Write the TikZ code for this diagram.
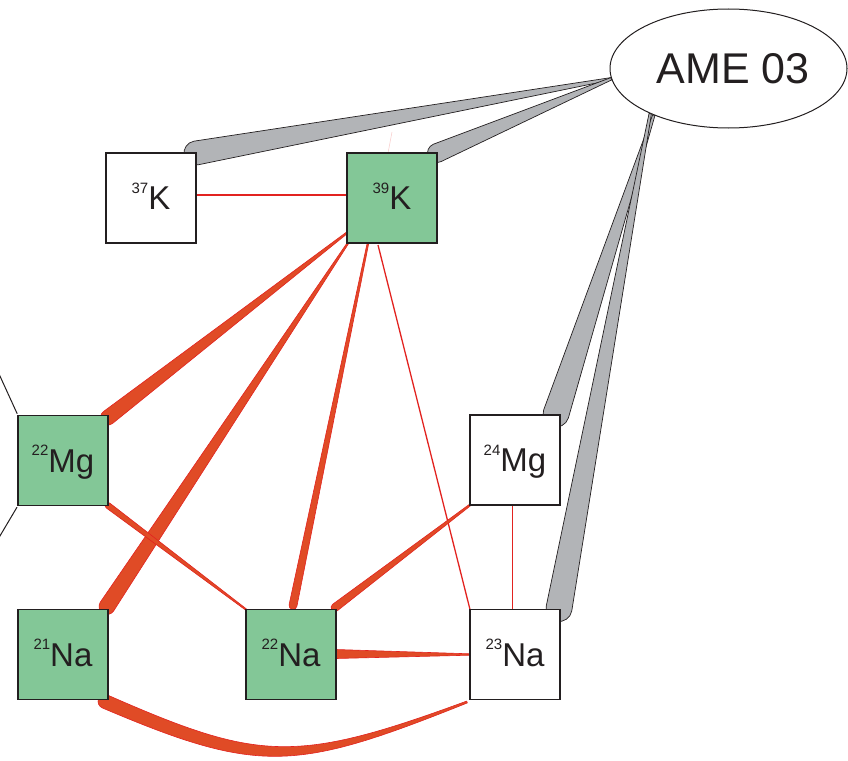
\documentclass[tikz,border=0pt]{standalone}
\usepackage{fontspec}
\setmainfont{Liberation Sans}
\usetikzlibrary{calc,shapes.geometric,backgrounds}
\definecolor{boxgreen}{RGB}{131,199,151}
\definecolor{wedgegray}{RGB}{178,180,183}
\definecolor{linered}{RGB}{226,35,32}
\definecolor{wedgered}{RGB}{224,75,38}
\definecolor{ink}{RGB}{35,31,32}
\newcommand\taperpath[5]{%
 \path[#1] let \p1=($(#3)-(#2)$), \n1={atan2(\y1,\x1)} in
 ($(#2)+({\n1+90}:#4)$) -- ($(#3)+({\n1+90}:#5)$)
 arc[start angle={\n1+90}, end angle={\n1-90}, radius=#5]
 -- ($(#2)+({\n1-90}:#4)$) -- cycle;}
\newcommand\isolabel[2]{\raisebox{16.5pt}{\fontsize{15}{17}\selectfont #1}{\fontsize{33}{36}\selectfont #2}}
\tikzset{
 iso/.style={draw=ink, line width=1.4pt, minimum width=90pt, minimum height=90pt,
   inner sep=0pt, outer sep=0pt, text=ink, text height=23.6pt, text depth=0pt},
 isogreen/.style={iso, fill=boxgreen},
 isowhite/.style={iso, fill=white},
 graywedge/.style={fill=wedgegray, draw=ink, line width=0.7pt, line join=round},
 redwedge/.style={fill=wedgered, draw=linered, line width=0.6pt, line join=round},
 thinred/.style={draw=linered, line width=1.3pt},
 blackline/.style={draw=ink, line width=1pt}
}
\begin{document}
\begin{tikzpicture}[x=1pt,y=1pt]
\useasboundingbox (0,0) rectangle (848,-760);
\clip (0,0) rectangle (848,-760);
% ellipse
\node[ellipse, draw=ink, line width=1pt, fill=white, minimum width=237pt, minimum height=119pt,
  inner sep=0pt, text=ink, font=\fontsize{43}{46}\selectfont, text height=30.8pt, text depth=0pt]
  (AME) at (728.5,-68.5) {\hspace*{9pt}AME 03};
% boxes
\node[isowhite] (K37) at (151,-198) {\isolabel{37}{K}};
\node[isogreen] (K39) at (392,-198) {\isolabel{39}{K}};
\node[isogreen] (Mg22) at (63,-460.5) {\isolabel{22}{Mg}};
\node[isowhite] (Mg24) at (515,-460) {\isolabel{24}{Mg}};
\node[isogreen] (Na21) at (63,-654.5) {\isolabel{21}{Na}};
\node[isogreen] (Na22) at (291,-654.5) {\isolabel{22}{Na}};
\node[isowhite] (Na23) at (515,-654.5) {\isolabel{23}{Na}};
% helper coordinates
\coordinate (offA) at (-6,-363);
\coordinate (offB) at (-6,-546);
\coordinate (g3end) at ($(Mg24.north east)+(-4pt,1pt)$);
\coordinate (g4end) at ($(Na23.north east)+(-1pt,1pt)$);
\coordinate (r1s) at ($(K39.south west)+(1pt,11pt)$);
\coordinate (r1e) at ($(Mg22.north east)+(0pt,-2pt)$);
\coordinate (r2s) at ($(K39.south west)+(1pt,0pt)$);
\coordinate (r2e) at ($(Na21.north east)+(-1pt,3pt)$);
\coordinate (r3s) at ($(K39.south west)+(21pt,0pt)$);
\coordinate (r3e) at ($(Na22.north)+(2pt,4pt)$);
\coordinate (r4s) at ($(K39.south west)+(31pt,-2pt)$);
\coordinate (r6e) at ($(Na22.north east)+(-1pt,2pt)$);
\coordinate (r8e) at ($(Na22.east)+(0pt,0.5pt)$);
\coordinate (c0) at ($(Na21.south east)+(-3pt,-2pt)$);
\coordinate (c3) at ($(Na23.south west)+(-3pt,-2.5pt)$);
\coordinate (faintend) at (392,-132);
\begin{scope}[on background layer]
 % black lines from the left
 \draw[blackline, shorten >=2pt] (offA) -- (Mg22.north west);
 \draw[blackline, shorten >=2pt] (offB) -- (Mg22.south west);
 % gray wedges
 \taperpath{graywedge}{AME.185}{K37.north east}{1.2pt}{12pt}
 \taperpath{graywedge}{AME.185}{K39.north east}{1.2pt}{9.5pt}
 \taperpath{graywedge}{AME.212}{g3end}{1.2pt}{13pt}
 \taperpath{graywedge}{AME.210}{g4end}{1.2pt}{13pt}
 % thin red lines
 \draw[thinred] ([yshift=3pt]K37.east) -- ([yshift=3pt]K39.west);
 \draw[thinred] (r4s) -- (Na23.north west);
 \draw[thinred] ([xshift=-2.3pt]Mg24.south) -- ([xshift=-2.3pt]Na23.north);
 \draw[linered!25, line width=0.5pt] ([xshift=-4pt]K39.north) -- (faintend);
 % red wedges
 \taperpath{redwedge}{r1s}{r1e}{0.8pt}{7.5pt}
 \taperpath{redwedge}{r2s}{r2e}{0.8pt}{8pt}
 \taperpath{redwedge}{r3s}{r3e}{0.8pt}{4pt}
 \taperpath{redwedge}{Na22.north west}{Mg22.south east}{0.7pt}{3pt}
 \taperpath{redwedge}{Mg24.south west}{r6e}{0.9pt}{4pt}
 \taperpath{redwedge}{Na23.west}{r8e}{0.7pt}{4.5pt}
 % curved wedge 21Na -- 23Na
 \path[redwedge] ($(c0)+(2.7pt,6.4pt)$) .. controls (259,-761.5) and (295,-764) .. ($(c3)+(-0.35pt,0.9pt)$)
   -- ($(c3)+(0.35pt,-0.9pt)$) .. controls (295,-772) and (259,-774.5) .. ($(c0)+(-2.7pt,-6.4pt)$)
   arc[start angle=-113, end angle=-293, radius=7pt] -- cycle;
\end{scope}
\end{tikzpicture}
\end{document}
